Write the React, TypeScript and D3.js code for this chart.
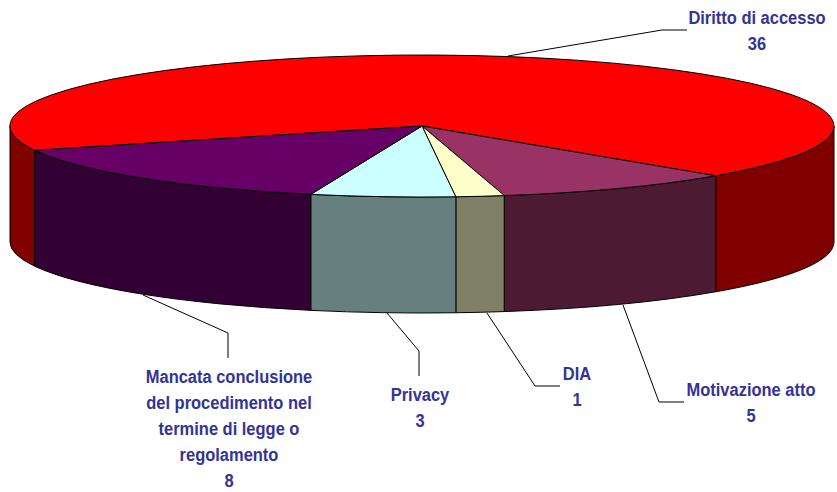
import React from "react";
import * as d3 from "d3";

const categories = ["Diritto di accesso", "Motivazione atto", "DIA", "Privacy", "Mancata conclusione del procedimento nel termine di legge o regolamento"];
const values = [36, 5, 1, 3, 8];
const topColors = ["#ff0000", "#993366", "#ffffcc", "#ccffff", "#660066"];
const sideColors = ["#800000", "#4d1a33", "#808066", "#668080", "#330033"];
const labelLines = [["Diritto di accesso"], ["Motivazione atto"], ["DIA"], ["Privacy"], ["Mancata conclusione", "del procedimento nel", "termine di legge o", "regolamento"]];
const labelCenters: [number, number][] = [[757, 17], [751, 389], [577, 373], [420, 394], [229, 376]];
const leaders: [number, number][][] = [
  [[508, 56], [662, 30], [687, 30]],
  [[623, 305], [659, 402], [684, 402]],
  [[487, 313], [535, 386], [560, 386]],
  [[387, 313], [419, 351], [419, 376]],
  [[143, 295], [228, 333], [228, 358]],
];

const cx = 422, cy = 126, rx = 412, ry = 71, depth = 116;
const toRad = Math.PI / 180;
const textScale = 0.867;
const pt = (a: number): [number, number] => [cx + rx * Math.cos(a), cy + ry * Math.sin(a)];

export default function App() {
  // d3 angles run clockwise from 12 o'clock; the first slice starts on the left, 160deg past 3 o'clock.
  const pie = d3.pie<number>().sort(null).startAngle(250 * toRad).endAngle(610 * toRad);
  const arcs = pie(values);
  const screen = (a: number) => a - Math.PI / 2;
  const wedge = d3.arc<any>().innerRadius(0).outerRadius(1);

  const wall = (a0: number, a1: number) => {
    // segments of the rim that face the viewer (screen angles 0..PI, 2PI..3PI)
    const s = [] as [number, number][];
    for (const k of [0, 2]) {
      const lo = Math.max(a0, k * Math.PI), hi = Math.min(a1, k * Math.PI + Math.PI);
      if (hi > lo) s.push([lo, hi]);
    }
    return s.map(([lo, hi]) => {
      const [x0, y0] = pt(lo), [x1, y1] = pt(hi);
      return `M${x0},${y0}A${rx},${ry} 0 0 1 ${x1},${y1}L${x1},${y1 + depth}A${rx},${ry} 0 0 0 ${x0},${y0 + depth}Z`;
    });
  };

  return (
    <svg width={837} height={492} style={{ position: "absolute", left: 0, top: 0 }}>
      {arcs.map((d, i) =>
        wall(screen(d.startAngle), screen(d.endAngle)).map((path, j) => (
          <path key={`w${i}-${j}`} d={path} fill={sideColors[i]} stroke="#000" strokeWidth={1} />
        ))
      )}
      <g transform={`translate(${cx},${cy}) scale(${rx},${ry})`}>
        {arcs.map((d, i) => (
          <path key={i} d={wedge(d) as string} fill={topColors[i]} stroke="#000" strokeWidth={1} vectorEffect="non-scaling-stroke" />
        ))}
      </g>
      {leaders.map((l, i) => (
        <path key={i} d={d3.line()(l) as string} fill="none" stroke="#000" strokeWidth={1} />
      ))}
      <g transform={`scale(${textScale},1)`}>
        {categories.map((c, i) => {
          const lines = [...labelLines[i], String(values[i])];
          return (
            <text key={c} textAnchor="middle" fontFamily="Liberation Sans, Arial, sans-serif" fontWeight={700} fontSize={19} fill="#333399">
              {lines.map((t, k) => (
                <tspan key={k} x={labelCenters[i][0] / textScale} y={labelCenters[i][1] + 7 + k * 26}>{t}</tspan>
              ))}
            </text>
          );
        })}
      </g>
    </svg>
  );
}
